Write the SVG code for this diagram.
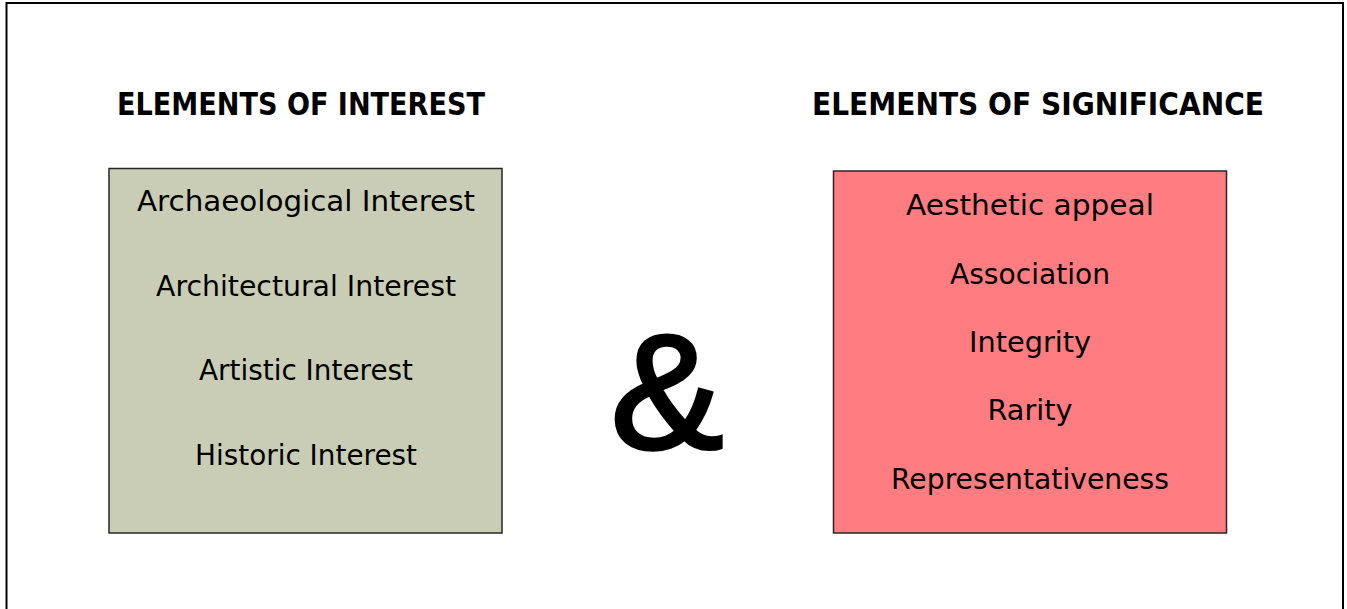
<svg xmlns="http://www.w3.org/2000/svg" width="1347" height="609" viewBox="0 0 1347 609">
  <style>
    .frame { fill: #ffffff; stroke: #000000; stroke-width: 2; }
    .box { stroke: #262626; stroke-width: 1.5; }
    .interest { fill: #CACDB5; }
    .significance { fill: #FF7C80; }
    .heading { font-family: "DejaVu Sans", sans-serif; font-weight: bold; font-size: 31.5px; fill: #000000; }
    .item { font-family: "DejaVu Sans", sans-serif; font-size: 28px; fill: #000000; text-anchor: middle; }
    .amp { font-family: "Liberation Sans", Arial, sans-serif; font-size: 164px; fill: #000000; stroke: #000000; stroke-width: 3.5; text-anchor: middle; }
  </style>
  <rect x="0" y="0" width="1347" height="609" fill="#ffffff"/>
  <rect class="frame" x="6.5" y="3" width="1336.5" height="640"/>

  <g id="heading-interest">
    <text class="heading" x="117" y="115" textLength="368" lengthAdjust="spacingAndGlyphs">ELEMENTS OF INTEREST</text>
  </g>
  <g id="heading-significance">
    <text class="heading" x="812" y="115" textLength="452" lengthAdjust="spacingAndGlyphs">ELEMENTS OF SIGNIFICANCE</text>
  </g>

  <g id="box-interest">
    <rect class="box interest" x="109" y="168.5" width="393" height="364.5"/>
    <text class="item" x="306" y="211" textLength="338" lengthAdjust="spacingAndGlyphs">Archaeological Interest</text>
    <text class="item" x="306" y="295.5" textLength="300" lengthAdjust="spacingAndGlyphs">Architectural Interest</text>
    <text class="item" x="306" y="380" textLength="214" lengthAdjust="spacingAndGlyphs">Artistic Interest</text>
    <text class="item" x="306" y="464.5" textLength="222" lengthAdjust="spacingAndGlyphs">Historic Interest</text>
  </g>

  <g id="ampersand">
    <text class="amp" x="667" y="448" textLength="113" lengthAdjust="spacingAndGlyphs">&amp;</text>
  </g>

  <g id="box-significance">
    <rect class="box significance" x="833.5" y="171" width="393" height="362"/>
    <text class="item" x="1030" y="215" textLength="248" lengthAdjust="spacingAndGlyphs">Aesthetic appeal</text>
    <text class="item" x="1030" y="283.5" textLength="160" lengthAdjust="spacingAndGlyphs">Association</text>
    <text class="item" x="1030" y="352" textLength="122" lengthAdjust="spacingAndGlyphs">Integrity</text>
    <text class="item" x="1030" y="420" textLength="85" lengthAdjust="spacingAndGlyphs">Rarity</text>
    <text class="item" x="1030" y="488.5" textLength="278" lengthAdjust="spacingAndGlyphs">Representativeness</text>
  </g>

  <g id="connectors"></g>
</svg>
